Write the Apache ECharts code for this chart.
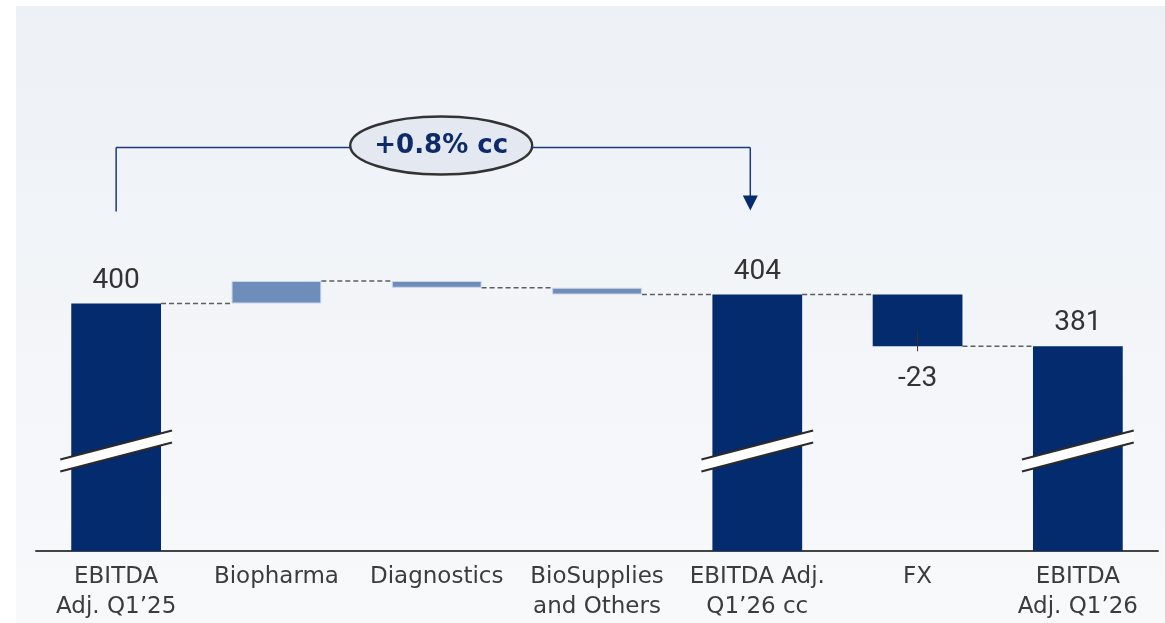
<!DOCTYPE html>
<html>
<head>
<meta charset="utf-8">
<script src="https://cdn.jsdelivr.net/npm/echarts@6/dist/echarts.min.js"></script>
<style>
  html, body { margin: 0; padding: 0; background: #ffffff; }
  #chart { width: 1165px; height: 623px; }
</style>
</head>
<body>
<div id="chart"></div>
<script>
// EBITDA Adj. bridge, Q1'25 -> Q1'26 (EUR m)
const categories = [
  'EBITDA\nAdj. Q1\u201925',
  'Biopharma',
  'Diagnostics',
  'BioSupplies\nand Others',
  'EBITDA Adj.\nQ1\u201926 cc',
  'FX',
  'EBITDA\nAdj. Q1\u201926'
];
// totals are absolute values, the others are changes
const stepValues = [400, 10, -3, -3, 404, -23, 381];
const isTotal = [true, false, false, false, true, false, true];
const showValue = [true, false, false, false, true, true, true];
const growthText = '+0.8% cc';
const growthFrom = 0;
const growthTo = 4;

const axisMin = 290;
const axisMax = 510;

const NAVY = '#032b6e';
const LIGHT = '#6f8dba';
const BAR_RATIO = 0.56;

// running levels of the bridge
const lows = [], highs = [], levels = [];
let running = 0;
stepValues.forEach((v, i) => {
  if (isTotal[i]) {
    lows.push(0); highs.push(v); running = v;
  } else {
    const next = running + v;
    lows.push(Math.min(running, next));
    highs.push(Math.max(running, next));
    running = next;
  }
  levels.push(running);
});

const visibleData = stepValues.map((v, i) => {
  const item = {
    value: highs[i] - lows[i],
    itemStyle: isTotal[i] || i === 5
      ? { color: NAVY }
      : { color: LIGHT, borderColor: '#c9d6e8', borderWidth: 1 }
  };
  if (showValue[i]) {
    const below = !isTotal[i] && v < 0;
    item.label = {
      show: true,
      position: below ? 'bottom' : 'top',
      distance: below ? 19 : 9,
      formatter: String(v)
    };
  } else {
    item.label = { show: false };
  }
  return item;
});

const chart = echarts.init(document.getElementById('chart'), null, { renderer: 'canvas' });

function halfBar(api) {
  return api.size([1, 0])[0] * BAR_RATIO / 2;
}

chart.setOption({
  animation: false,
  backgroundColor: '#ffffff',
  graphic: [{
    type: 'rect',
    left: 16, top: 6, z: -10, silent: true,
    shape: { width: 1149, height: 617 },
    style: {
      fill: new echarts.graphic.LinearGradient(0, 0, 0, 1, [
        { offset: 0, color: '#edf1f6' },
        { offset: 1, color: '#f8f9fb' }
      ])
    }
  }],
  grid: { left: 36, right: 7, top: 56, bottom: 72 },
  xAxis: {
    type: 'category',
    data: categories,
    axisTick: { show: false },
    axisLine: { lineStyle: { color: '#444444', width: 2 } },
    axisLabel: {
      interval: 0,
      margin: 11,
      fontFamily: 'DejaVu Sans',
      fontSize: 23,
      lineHeight: 30,
      color: '#3c3c3c'
    }
  },
  yAxis: {
    type: 'value',
    min: axisMin,
    max: axisMax,
    show: false,
    splitLine: { show: false }
  },
  series: [
    {
      name: 'base',
      type: 'bar',
      stack: 'bridge',
      barWidth: (BAR_RATIO * 100) + '%',
      itemStyle: { color: 'transparent' },
      silent: true,
      data: lows
    },
    {
      name: 'bridge',
      type: 'bar',
      stack: 'bridge',
      barWidth: (BAR_RATIO * 100) + '%',
      label: {
        fontFamily: 'Roboto',
        fontSize: 28,
        color: '#333333'
      },
      data: visibleData
    },
    {
      // dashed connectors between consecutive bars
      name: 'connectors',
      type: 'custom',
      z: 1,
      silent: true,
      data: levels.slice(0, -1).map((l, i) => [i, l]),
      renderItem: (params, api) => {
        const i = api.value(0);
        const p = api.coord([i, api.value(1)]);
        const q = api.coord([i + 1, api.value(1)]);
        const h = halfBar(api);
        return {
          type: 'line',
          shape: { x1: p[0] + h, y1: p[1], x2: q[0] - h, y2: q[1] },
          style: { stroke: '#5e5e5e', lineWidth: 1.4, lineDash: [5, 3] }
        };
      }
    },
    {
      // short leader under negative labelled changes
      name: 'leaders',
      type: 'custom',
      z: 4,
      silent: true,
      data: stepValues.map((v, i) => [i, lows[i]]).filter((d) => !isTotal[d[0]] && showValue[d[0]]),
      renderItem: (params, api) => {
        const p = api.coord([api.value(0), api.value(1)]);
        return {
          type: 'line',
          shape: { x1: p[0], y1: p[1] - 16, x2: p[0], y2: p[1] + 5 },
          style: { stroke: '#333333', lineWidth: 1 }
        };
      }
    },
    {
      // axis-break marks on the total bars
      name: 'breaks',
      type: 'custom',
      z: 5,
      silent: true,
      data: stepValues.map((v, i) => [i, axisMin]).filter((d) => isTotal[d[0]]),
      renderItem: (params, api) => {
        const base = api.coord([api.value(0), api.value(1)]);
        const cx = base[0];
        const cy = base[1] - 100;
        const s = halfBar(api) + 11;
        const rise = 14.5, gap = 6;
        return {
          type: 'group',
          children: [
            {
              type: 'polygon',
              shape: { points: [
                [cx - s, cy + rise - gap], [cx + s, cy - rise - gap],
                [cx + s, cy - rise + gap], [cx - s, cy + rise + gap]
              ] },
              style: { fill: '#ffffff' }
            },
            {
              type: 'line',
              shape: { x1: cx - s, y1: cy + rise - gap, x2: cx + s, y2: cy - rise - gap },
              style: { stroke: '#2b2b2b', lineWidth: 2.2 }
            },
            {
              type: 'line',
              shape: { x1: cx - s, y1: cy + rise + gap, x2: cx + s, y2: cy - rise + gap },
              style: { stroke: '#2b2b2b', lineWidth: 2.2 }
            }
          ]
        };
      }
    },
    {
      // growth bracket from the first total to the constant-currency total
      name: 'growth',
      type: 'custom',
      z: 6,
      silent: true,
      data: [[growthFrom, highs[growthFrom], growthTo, highs[growthTo]]],
      renderItem: (params, api) => {
        const a = api.coord([api.value(0), api.value(1)]);
        const b = api.coord([api.value(2), api.value(3)]);
        const yTop = a[1] - 156;
        const xL = a[0];
        const xR = b[0] - 7;
        const tipY = b[1] - 84;
        const cx = (xL + xR) / 2 + 8;
        const lineStyle = { stroke: '#1b3a78', lineWidth: 1.5 };
        return {
          type: 'group',
          children: [
            { type: 'line', shape: { x1: xL, y1: yTop, x2: xL, y2: a[1] - 92 }, style: lineStyle },
            { type: 'line', shape: { x1: xL, y1: yTop, x2: xR, y2: yTop }, style: lineStyle },
            { type: 'line', shape: { x1: xR, y1: yTop, x2: xR, y2: tipY - 14 }, style: lineStyle },
            {
              type: 'polygon',
              shape: { points: [[xR - 7.5, tipY - 15], [xR + 7.5, tipY - 15], [xR, tipY]] },
              style: { fill: NAVY }
            },
            {
              type: 'ellipse',
              shape: { cx: cx, cy: yTop - 2, rx: 91, ry: 29 },
              style: { fill: '#e4e9f1', stroke: '#333333', lineWidth: 2.4 }
            },
            {
              type: 'text',
              x: cx, y: yTop - 1,
              style: {
                text: growthText,
                fontFamily: 'DejaVu Sans',
                fontWeight: 'bold',
                fontSize: 26,
                fill: '#0d2b6b',
                align: 'center',
                verticalAlign: 'middle'
              }
            }
          ]
        };
      }
    }
  ]
});
</script>
</body>
</html>
